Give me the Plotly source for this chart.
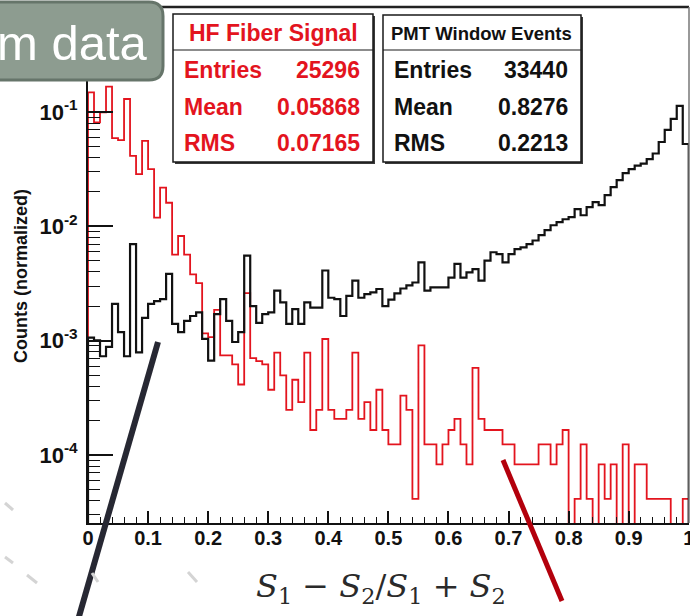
import numpy as np
import plotly.graph_objects as go

# ---------------------------------------------------------------------------
# Histogram contents: 100 equal bins on [0, 1], raw counts per bin
# ---------------------------------------------------------------------------
hf_counts = [
    3591, 1959, 2399, 4030, 1430, 1373, 3142, 1000, 691, 1354,
    764, 288, 527, 389, 137, 199, 137, 92, 77, 28,
    26, 45, 18, 18, 15, 10, 63, 17, 16, 15,
    9, 19, 12, 6, 11, 7, 19, 4, 6, 25,
    6, 5, 5, 6, 19, 5, 7, 4, 9, 4,
    3, 3, 8, 6, 1, 22, 3, 3, 2, 3,
    4, 5, 3, 2, 14, 5, 4, 4, 4, 3,
    3, 2, 2, 2, 2, 3, 3, 2, 3, 4,
    0, 1, 3, 1, 0, 2, 1, 2, 0, 3,
    0, 2, 2, 1, 1, 1, 1, 0, 0, 1,
]

pmt_counts = [
    35, 33, 24, 29, 69, 39, 24, 230, 26, 52,
    69, 73, 76, 126, 46, 39, 49, 54, 58, 34,
    22, 56, 76, 49, 32, 39, 182, 66, 47, 56,
    58, 90, 71, 46, 62, 46, 71, 64, 64, 135,
    78, 76, 54, 81, 110, 78, 84, 87, 93, 66,
    75, 85, 94, 100, 106, 159, 90, 96, 96, 96,
    117, 154, 117, 130, 139, 110, 165, 195, 188, 159,
    188, 208, 215, 230, 247, 275, 304, 336, 357, 379,
    395, 464, 411, 483, 535, 503, 616, 724, 834, 960,
    1042, 1118, 1164, 1274, 1425, 1796, 2289, 2858, 3718, 1726,
]

N_BINS = 100
X_MIN, X_MAX = 0.0, 1.0

# Statistics boxes
stat_labels = ["Entries", "Mean", "RMS"]
hf_title = "HF Fiber Signal"
hf_values = ["25296", "0.05868", "0.07165"]
pmt_title = "PMT Window Events"
pmt_values = ["33440", "0.8276", "0.2213"]

# Axis ticks
x_tick_vals = [0, 0.1, 0.2, 0.3, 0.4, 0.5, 0.6, 0.7, 0.8, 0.9, 1.0]
x_tick_text = ["0", "0.1", "0.2", "0.3", "0.4", "0.5", "0.6", "0.7", "0.8", "0.9", "1"]
y_tick_vals = [1e-4, 1e-3, 1e-2, 1e-1]
y_tick_text = ["10<sup>-4</sup>", "10<sup>-3</sup>", "10<sup>-2</sup>", "10<sup>-1</sup>"]

# ---------------------------------------------------------------------------
# Geometry helpers (pixel -> paper coordinates)
# ---------------------------------------------------------------------------
W, H = 690, 616
ML, MR, MT, MB = 88, 1, 7, 93
PW, PH = W - ML - MR, H - MT - MB
Y_RANGE = [-4.595, -0.0816]
X_RANGE = [X_MIN, X_MAX + 0.0004]


def px(x):
    return (x - ML) / PW


def py(y):
    return (H - MB - y) / PH


RED = "#e3141e"
FONT = "Liberation Sans, Arial, Helvetica, sans-serif"

edges = np.linspace(X_MIN, X_MAX, N_BINS + 1)


def step_xy(counts):
    c = np.asarray(counts, dtype=float)
    v = c / c.sum()
    floor = 10 ** Y_RANGE[0] / 10.0
    v = np.where(v > 0, v, floor)
    x = np.concatenate([[edges[0]], edges[:-1], [edges[-1], edges[-1]]])
    y = np.concatenate([[floor], v, [v[-1], floor]])
    return x, y


fig = go.Figure()

hx, hy = step_xy(hf_counts)
fig.add_trace(go.Scatter(x=hx, y=hy, mode="lines", line=dict(color=RED, width=1.8, shape="hv"),
                         name=hf_title, hoverinfo="skip"))
bx, by = step_xy(pmt_counts)
fig.add_trace(go.Scatter(x=bx, y=by, mode="lines", line=dict(color="#111111", width=2.2, shape="hv"),
                         name=pmt_title, hoverinfo="skip"))

shapes = []
annotations = []

# frame: top and right edges
shapes.append(dict(type="line", xref="paper", yref="paper", x0=0, x1=1, y0=1, y1=1,
                   line=dict(color="#222222", width=2.5)))
shapes.append(dict(type="line", xref="paper", yref="paper", x0=1, x1=1, y0=0, y1=1,
                   line=dict(color="#777777", width=1.5)))


def stat_box(x0, x1, y0, y1, ysep, title, tsize, values, color, title_cx):
    shapes.append(dict(type="rect", xref="paper", yref="paper",
                       x0=px(x0 + 2), x1=px(x1 + 2), y0=py(y1 + 2), y1=py(y0 + 2),
                       fillcolor="#3a3a3a", line=dict(width=0)))
    shapes.append(dict(type="rect", xref="paper", yref="paper",
                       x0=px(x0), x1=px(x1), y0=py(y1), y1=py(y0),
                       fillcolor="white", line=dict(color="#1a1a1a", width=1.5)))
    shapes.append(dict(type="line", xref="paper", yref="paper",
                       x0=px(x0), x1=px(x1), y0=py(ysep), y1=py(ysep),
                       line=dict(color="#1a1a1a", width=1.2)))
    annotations.append(dict(xref="paper", yref="paper", x=px(title_cx), y=py((y0 + ysep) / 2 + 1),
                            text="<b>%s</b>" % title, showarrow=False, xanchor="center", yanchor="middle",
                            font=dict(family=FONT, size=tsize, color=color)))
    for i, (lab, val) in enumerate(zip(stat_labels, values)):
        yc = 70 + i * 36.5
        annotations.append(dict(xref="paper", yref="paper", x=px(x0 + 9), y=py(yc),
                                text="<b>%s</b>" % lab, showarrow=False, xanchor="left", yanchor="middle",
                                font=dict(family=FONT, size=23, color=color)))
        annotations.append(dict(xref="paper", yref="paper", x=px(x1 - 11), y=py(yc),
                                text="<b>%s</b>" % val, showarrow=False, xanchor="right", yanchor="middle",
                                font=dict(family=FONT, size=23, color=color)))


stat_box(173, 373, 14, 162, 50, hf_title, 23, hf_values, RED, 273)
stat_box(383, 581, 15, 162, 50, pmt_title, 18.5, pmt_values, "#111111", 481)

# rounded label tab in the upper-left corner
L, R, T, B, r = -20, 163, 2, 80, 14
tab_path = ("M {l},{t} L {a},{t} Q {R},{t} {R},{b1} L {R},{b2} Q {R},{B} {a},{B} L {l},{B} Z"
            .format(l=px(L), t=py(T), a=px(R - r), R=px(R), b1=py(T + r), b2=py(B - r), B=py(B)))
shapes.append(dict(type="path", xref="paper", yref="paper", path=tab_path,
                   fillcolor="#8d9c90", line=dict(color="#66756a", width=3)))
annotations.append(dict(xref="paper", yref="paper", x=px(150), y=py(43), text="m data",
                        showarrow=False, xanchor="right", yanchor="middle",
                        font=dict(family=FONT, size=49, color="white")))

# callout strokes
shapes.append(dict(type="line", xref="paper", yref="paper", x0=px(158), y0=py(342), x1=px(78), y1=py(620),
                   line=dict(color="#272833", width=6)))
shapes.append(dict(type="line", xref="paper", yref="paper", x0=px(503), y0=py(460), x1=px(562), y1=py(601),
                   line=dict(color="#b3000c", width=5)))

# faint marks in the lower-left margin
for (x0, y0, x1, y1) in [(5, 503, 13, 510), (5, 557, 13, 563), (27, 575, 37, 583),
                         (92, 573, 98, 582), (188, 572, 197, 582)]:
    shapes.append(dict(type="line", xref="paper", yref="paper", x0=px(x0), y0=py(y0), x1=px(x1), y1=py(y1),
                       line=dict(color="#d4d4d4", width=3)))

# axis titles
annotations.append(dict(xref="paper", yref="paper", x=px(21), y=py(276), text="<b>Counts (normalized)</b>",
                        textangle=-90, showarrow=False, xanchor="center", yanchor="middle",
                        font=dict(family=FONT, size=18, color="#111111")))
annotations.append(dict(xref="paper", yref="paper", x=px(381), y=py(588),
                        text="<i>S</i><sub>1</sub> − <i>S</i><sub>2</sub>/<i>S</i><sub>1</sub> + <i>S</i><sub>2</sub>",
                        showarrow=False, xanchor="center", yanchor="middle",
                        font=dict(family="DejaVu Serif, serif", size=32, color="#2a2a2a")))

y_minor = [k * 10.0 ** e for e in range(-5, 0) for k in range(2, 10)]

fig.update_layout(
    width=W, height=H,
    margin=dict(l=ML, r=MR, t=MT, b=MB, autoexpand=False),
    paper_bgcolor="white", plot_bgcolor="white",
    showlegend=False, hovermode=False,
    shapes=shapes, annotations=annotations,
    xaxis=dict(range=X_RANGE, showgrid=False, zeroline=False, automargin=False,
               showline=True, linecolor="#111111", linewidth=2,
               ticks="inside", ticklen=12, tickwidth=1.5, tickcolor="#111111",
               tickmode="array", tickvals=x_tick_vals, ticktext=x_tick_text,
               ticklabelstandoff=-4, ticklabeloverflow="allow",
               tickfont=dict(family=FONT, size=20, color="#111111", weight="bold"),
               minor=dict(ticks="inside", ticklen=6, tickwidth=1.2, tickcolor="#111111",
                          tick0=0, dtick=0.02, showgrid=False)),
    yaxis=dict(type="log", range=Y_RANGE, showgrid=False, zeroline=False, automargin=False,
               showline=True, linecolor="#111111", linewidth=2,
               ticks="inside", ticklen=25, tickwidth=1.5, tickcolor="#111111",
               tickmode="array", tickvals=y_tick_vals, ticktext=y_tick_text,
               ticklabelstandoff=4,
               tickfont=dict(family=FONT, size=22, color="#111111", weight="bold"),
               minor=dict(ticks="inside", ticklen=12, tickwidth=1.2, tickcolor="#111111",
                          tickmode="array", tickvals=y_minor, showgrid=False)),
)

fig.write_html("out.html")
